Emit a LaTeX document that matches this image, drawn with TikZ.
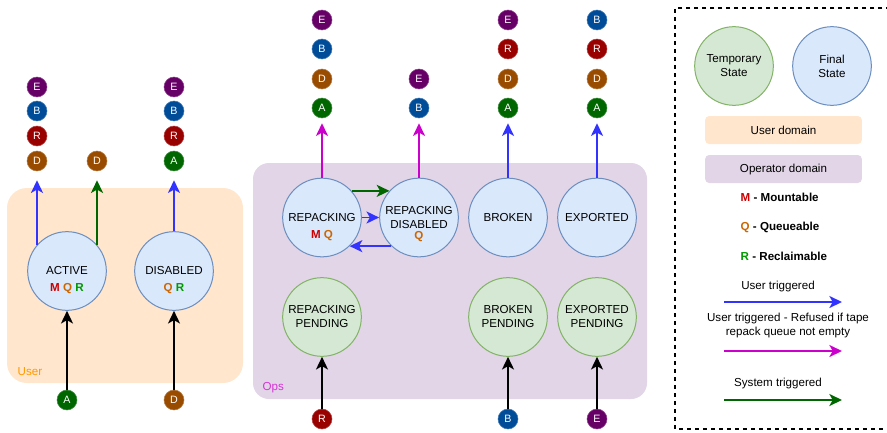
\documentclass[tikz,border=0pt]{standalone}
\usepackage{fontspec}
\setmainfont{Liberation Sans}
\usepackage{xcolor}
\usetikzlibrary{
	arrows.meta,
	positioning
}

\definecolor{finalfill}{HTML}{DAE8FC}
\definecolor{finalline}{HTML}{6C8EBF}
\definecolor{tempfill}{HTML}{D5E8D4}
\definecolor{templine}{HTML}{82B366}
\definecolor{userdom}{HTML}{FFE6CC}
\definecolor{opsdom}{HTML}{E1D5E7}
\definecolor{usrarrow}{HTML}{3333FF}
\definecolor{refarrow}{HTML}{CC00CC}
\definecolor{sysarrow}{HTML}{006600}
\definecolor{colE}{HTML}{660066}
\definecolor{colB}{HTML}{004C99}
\definecolor{colR}{HTML}{990000}
\definecolor{colD}{HTML}{994C00}
\definecolor{colA}{HTML}{006600}
\definecolor{flagM}{HTML}{CC0000}
\definecolor{flagQ}{HTML}{CC6600}
\definecolor{flagR}{HTML}{009900}

\tikzset{
	every node/.style={font=\fontsize{8.7}{10.5}\selectfont},
	state/.style={circle, minimum size=59pt, inner sep=0pt, align=center, line width=0.75pt},
	final/.style={state, draw=finalline, fill=finalfill},
	temp/.style={state, draw=templine, fill=tempfill},
	tok/.style={circle, minimum size=15pt, inner sep=0pt, text=white, fill=#1, draw=#1!75!white,
		font=\fontsize{8}{8}\selectfont},
	flags/.style={font=\fontsize{8.7}{10}\selectfont\bfseries},
	usr/.style={->, draw=usrarrow, line width=1.4pt},
	refused/.style={->, draw=refarrow, line width=1.4pt},
	sys/.style={->, draw=sysarrow, line width=1.4pt},
	cmd/.style={->, draw=black, line width=1.4pt},
	domkey/.style={rounded corners=3pt, minimum width=117.5pt, minimum height=21pt}
}

\newcommand{\fM}{\textcolor{flagM}{M}}
\newcommand{\fQ}{\textcolor{flagQ}{Q}}
\newcommand{\fR}{\textcolor{flagR}{R}}

\begin{document}
\begin{tikzpicture}[x=0.75pt, y=-0.75pt, >={Stealth[length=9.5pt,width=9pt,inset=2.5pt]}]
	\useasboundingbox (0,0) rectangle (887,432);
	
	% domains
	\fill[userdom, rounded corners=15pt] (7,188) rectangle (243,383);
	\node[anchor=west, text=orange!80!yellow] (userlbl) at (13,372) {User};
	\fill[opsdom, rounded corners=12pt] (253,163) rectangle (647,399);
	\node[anchor=west, text=refarrow!80!white] (opslbl) at (258,388) {Ops};
	
	% user states
	\node[final] (act) at (67,271) {ACTIVE};
	\node[flags] (actf) at (67,289) {\fM\ \fQ\ \fR};
	\node[final] (dis) at (174,271) {DISABLED};
	\node[flags] (disf) at (174,289) {\fQ\ \fR};
	
	\node[tok=colE] (aE) at (37,87) {E};
	\node[tok=colB] (aB) at (37,111) {B};
	\node[tok=colR] (aR) at (37,136) {R};
	\node[tok=colD] (aD) at (37,161) {D};
	\node[tok=colD] (aD2) at (97,161) {D};
	
	\node[tok=colE] (dE) at (174,87) {E};
	\node[tok=colB] (dB) at (174,111) {B};
	\node[tok=colR] (dR) at (174,136) {R};
	\node[tok=colA] (dA) at (174,161) {A};
	
	\node[tok=colA] (inA) at (67,400) {A};
	\node[tok=colD] (inD) at (174,400) {D};
	
	\draw[usr, shorten >=6.75pt] (act.139) -- (aD);
	\draw[sys, shorten >=6.75pt] (act.41) -- (aD2);
	\draw[usr, shorten >=6.75pt] (dis) -- (dA);
	\draw[cmd] (inA) -- (act);
	\draw[cmd] (inD) -- (dis);
	
	% ops states
	\node[final] (rep) at (322,217.5) {REPACKING};
	\node[flags] (repf) at (322,236) {\fM\ \fQ};
	\node[final] (repdis) at (419,217.5) {REPACKING\\DISABLED};
	\node[flags] (repdisf) at (419,237) {\fQ};
	\node[final] (brk) at (508,217.5) {BROKEN};
	\node[final] (exp) at (597,217.5) {EXPORTED};
	
	\node[temp] (reppend) at (322,317) {REPACKING\\PENDING};
	\node[temp] (brkpend) at (508,317) {BROKEN\\PENDING};
	\node[temp] (exppend) at (597,317) {EXPORTED\\PENDING};
	
	\node[tok=colE] (rE) at (322,20) {E};
	\node[tok=colB] (rB) at (322,49) {B};
	\node[tok=colD] (rD) at (322,79) {D};
	\node[tok=colA] (rA) at (322,108) {A};
	
	\node[tok=colE] (sE) at (419,79) {E};
	\node[tok=colB] (sB) at (419,108) {B};
	
	\node[tok=colE] (bE) at (508,20) {E};
	\node[tok=colR] (bR) at (508,49) {R};
	\node[tok=colD] (bD) at (508,79) {D};
	\node[tok=colA] (bA) at (508,108) {A};
	
	\node[tok=colB] (eB) at (597,20) {B};
	\node[tok=colR] (eR) at (597,49) {R};
	\node[tok=colD] (eD) at (597,79) {D};
	\node[tok=colA] (eA) at (597,108) {A};
	
	\node[tok=colR] (inR) at (322,419) {R};
	\node[tok=colB] (inB) at (508,419) {B};
	\node[tok=colE] (inE) at (597,419) {E};
	
	\draw[refused, shorten >=3.75pt] (rep) -- (rA);
	\draw[refused, shorten >=3.75pt] (repdis) -- (sB);
	\draw[usr, shorten >=3.75pt] (brk) -- (bA);
	\draw[usr, shorten >=3.75pt] (exp) -- (eA);
	
	\draw[sys] (rep.42) -- (repdis.138);
	\draw[usr] (rep.east) -- (repdis.west);
	\draw[usr] (repdis.226) -- (rep.314);
	
	\draw[cmd] (inR) -- (reppend);
	\draw[cmd] (inB) -- (brkpend);
	\draw[cmd] (inE) -- (exppend);
	
	% legend
	\draw[line width=1.1pt, dash pattern=on 3pt off 3pt] (890,8) -- (675,8) -- (675,429) -- (890,429);
	
	\node[temp] (keytmp) at (734,66) {Temporary\\State};
	\node[final] (keyfin) at (832,66) {Final\\State};
	\node[domkey, fill=userdom] (keyusr) at (783.5,130) {User domain};
	\node[domkey, fill=opsdom] (keyops) at (783.5,169) {Operator domain};
	
	\node[flags, anchor=west] (keyM) at (736,197) {\fM\ - Mountable};
	\node[flags, anchor=west] (keyQ) at (736,227) {\fQ\ - Queueable};
	\node[flags, anchor=west] (keyR) at (736,256) {\fR\ - Reclaimable};
	
	\coordinate (usrS) at (724,302);
	\coordinate (usrE) at (842,302);
	\node (usrtxt) at (778,286) {User triggered};
	\draw[usr] (usrS) -- (usrE);
	
	\coordinate (refS) at (724,351);
	\coordinate (refE) at (842,351);
	\node[align=center] (reftxt) at (788,325) {User triggered - Refused if tape\\repack queue not empty};
	\draw[refused] (refS) -- (refE);
	
	\coordinate (sysS) at (724,400);
	\coordinate (sysE) at (842,400);
	\node (systxt) at (778,383) {System triggered};
	\draw[sys] (sysS) -- (sysE);
	
\end{tikzpicture}
\end{document}
